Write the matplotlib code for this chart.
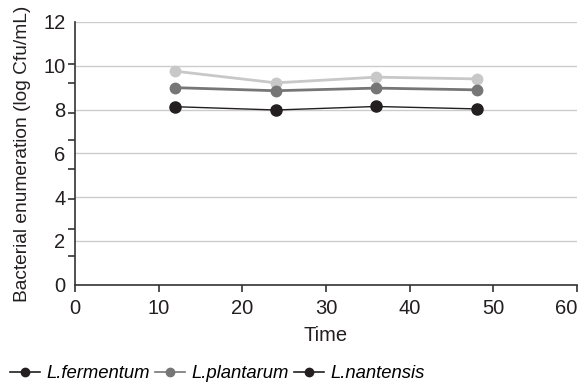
import matplotlib
matplotlib.use("Agg")
import matplotlib.pyplot as plt
from matplotlib.lines import Line2D

plt.rcParams['font.family'] = ['Liberation Sans', 'DejaVu Sans']

# sampling times and counts (log Cfu/mL)
time = [12, 24, 36, 48]
fermentum = [9.75, 9.22, 9.48, 9.40]
plantarum = [9.00, 8.86, 8.98, 8.90]
nantensis = [8.13, 7.98, 8.14, 8.03]
names = ['L.fermentum', 'L.plantarum', 'L.nantensis']

fig = plt.figure(figsize=(5.86, 3.85), dpi=100)
ax = fig.add_axes([0.128, 0.2605, 0.8566, 0.6824])

ax.plot(time, fermentum, color='#c8c8c8', lw=2.0, marker='o', ms=7.5, zorder=3)
ax.plot(time, plantarum, color='#767676', lw=2.0, marker='o', ms=7.5, zorder=4)
ax.plot(time, nantensis, color='#231f20', lw=1.0, marker='o', ms=8, zorder=5)

ax.set_xlim(0, 60)
ax.set_ylim(0, 12)
ax.set_xticks(range(0, 61, 10))
ax.set_yticks(range(0, 13, 2))
# the y axis carries its own short tick marks
ax.set_yticks([0, 1.32, 2.56, 3.93, 5.3, 6.6, 7.85, 9.2, 10.1, 12], minor=True)
ax.yaxis.grid(True, color='#cccccc', lw=1.0)
ax.set_axisbelow(True)

for s in ['top', 'right']:
    ax.spines[s].set_visible(False)
for s in ['left', 'bottom']:
    ax.spines[s].set_color('#333333')
    ax.spines[s].set_linewidth(1.2)

ax.tick_params(axis='x', length=5, width=1.2, color='#333333', labelsize=14.5,
               labelcolor='#231f20', pad=5)
ax.tick_params(axis='y', which='major', length=0, labelsize=14.5,
               labelcolor='#231f20', pad=7)
ax.tick_params(axis='y', which='minor', length=5, width=1.2, color='#333333')
# keep the last x label inside the figure
ax.xaxis.get_major_ticks()[-1].label1.set_horizontalalignment('right')

ax.set_xlabel('Time', fontsize=14.5, color='#231f20', labelpad=6)
ax.set_ylabel('Bacterial enumeration (log Cfu/mL)', fontsize=13.8, color='#231f20', labelpad=9)

handles = [
    Line2D([], [], color='#231f20', lw=1.2, marker='o', ms=6),
    Line2D([], [], color='#767676', lw=1.2, marker='o', ms=6),
    Line2D([], [], color='#231f20', lw=1.2, marker='o', ms=6),
]
fig.legend(handles, names, loc='lower left', bbox_to_anchor=(-0.005, -0.027), ncol=3,
           frameon=False, prop={'style': 'italic', 'size': 13.3},
           handlelength=1.6, handletextpad=0.35, columnspacing=0.3,
           borderaxespad=0.3)

fig.savefig('out.png', dpi=100)
